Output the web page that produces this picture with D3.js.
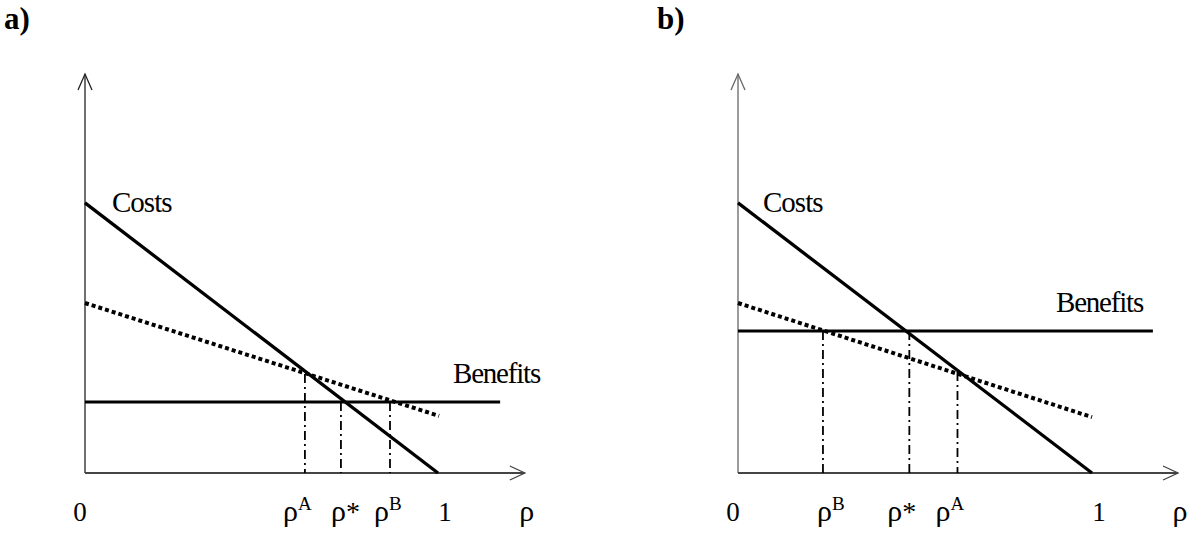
<!DOCTYPE html>
<html>
<head>
<meta charset="utf-8">
<script src="https://cdn.jsdelivr.net/npm/d3@7"></script>
<style>
  body { margin: 0; background: #fff; }
</style>
</head>
<body>
<svg id="chart" width="1197" height="537"></svg>
<script>
// data in chart units: rho on x (0..1), value on y (0..1 = axis height)
var panelNames = ['a)', 'b)'];

var costsA = [[0, 0.677], [1, 0]];
var dottedA = [[0, 0.426], [1.003, 0.143]];
var benefitsA = [[0, 0.178], [1.176, 0.178]];
var markersA = [
  {name: 'A', x: 0.623, top: 0.248},
  {name: '*', x: 0.725, top: 0.178},
  {name: 'B', x: 0.864, top: 0.178}
];

var costsB = [[0, 0.677], [1, 0]];
var dottedB = [[0, 0.426], [1, 0.140]];
var benefitsB = [[0, 0.356], [1.172, 0.356]];
var markersB = [
  {name: 'B', x: 0.24, top: 0.356},
  {name: '*', x: 0.484, top: 0.356},
  {name: 'A', x: 0.62, top: 0.253}
];

var tickLabels = ['0', '1'];
var axisLabel = 'ρ';
var costsLabel = 'Costs';
var benefitsLabel = 'Benefits';

var SERIF = "'Liberation Serif', 'DejaVu Serif', 'Times New Roman', serif";
var svg = d3.select('#chart');

function drawPanel(p) {
  var x = d3.scaleLinear().domain([0, 1]).range([p.x0, p.x1]);
  var y = d3.scaleLinear().domain([0, 1]).range([473, 74]);
  var g = svg.append('g').attr('font-family', SERIF);
  var line = d3.line().x(function(d) { return x(d[0]); }).y(function(d) { return y(d[1]); });

  // panel title
  g.append('text').attr('x', p.x0 - 81).attr('y', 29)
    .attr('font-size', 31).attr('font-weight', 'bold').text(p.title);

  // y axis with open arrow
  g.append('line').attr('x1', x(0)).attr('x2', x(0)).attr('y1', y(0)).attr('y2', y(1))
    .style('stroke', p.yAxisColor).style('stroke-width', 1.3);
  g.append('path')
    .attr('d', 'M' + (x(0) - 7) + ',' + (y(1) + 16) + 'L' + x(0) + ',' + y(1) + 'L' + (x(0) + 7) + ',' + (y(1) + 16))
    .style('fill', 'none').style('stroke', p.yAxisColor).style('stroke-width', 1.3);

  // x axis with open arrow
  var xEnd = x(p.axisEnd);
  g.append('line').attr('x1', x(0)).attr('x2', xEnd).attr('y1', y(0)).attr('y2', y(0))
    .style('stroke', '#444').style('stroke-width', 2);
  g.append('path')
    .attr('d', 'M' + (xEnd - 15) + ',' + (y(0) - 7) + 'L' + xEnd + ',' + y(0) + 'L' + (xEnd - 15) + ',' + (y(0) + 7))
    .style('fill', 'none').style('stroke', '#444').style('stroke-width', 1.3);

  // dash-dot guides
  g.selectAll('.guide').data(p.markers).enter().append('line')
    .attr('class', 'guide')
    .attr('x1', function(d) { return x(d.x); }).attr('x2', function(d) { return x(d.x); })
    .attr('y1', function(d) { return y(d.top); }).attr('y2', y(0))
    .style('stroke', '#000').style('stroke-width', 1.8)
    .style('stroke-dasharray', '9,4,2,4');

  // curves
  g.append('path').attr('d', line(p.benefits))
    .style('fill', 'none').style('stroke', '#000').style('stroke-width', 3);
  g.append('path').attr('d', line(p.dotted))
    .style('fill', 'none').style('stroke', '#000').style('stroke-width', 4)
    .style('stroke-dasharray', '4,3');
  g.append('path').attr('d', line(p.costs))
    .style('fill', 'none').style('stroke', '#000').style('stroke-width', 3.3);

  // curve labels
  g.append('text').attr('x', x(0) + p.costsDx).attr('y', 212)
    .attr('font-size', 29).attr('letter-spacing', -1).text(costsLabel);
  g.append('text').attr('x', p.benefitsX).attr('y', p.benefitsY)
    .attr('font-size', 29).attr('letter-spacing', -1.2).text(benefitsLabel);

  // tick labels
  g.append('text').attr('x', x(0) - 5).attr('y', 521).attr('text-anchor', 'middle')
    .attr('font-size', 27).text(tickLabels[0]);
  g.append('text').attr('x', x(1) + 7).attr('y', 521).attr('text-anchor', 'middle')
    .attr('font-size', 27).text(tickLabels[1]);
  g.append('text').attr('x', xEnd + 2).attr('y', 521).attr('text-anchor', 'middle')
    .attr('font-size', 30).text(axisLabel);

  // rho labels
  var lab = g.selectAll('.rho').data(p.markers).enter().append('text')
    .attr('class', 'rho')
    .attr('x', function(d, i) { return x(d.x) + p.nudge[i]; })
    .attr('y', 521)
    .attr('font-size', 30);
  lab.append('tspan').text(axisLabel);
  lab.append('tspan')
    .attr('dy', function(d) { return d.name === '*' ? 0 : -11; })
    .attr('font-size', function(d) { return d.name === '*' ? 28 : 19; })
    .text(function(d) { return d.name; });
}

drawPanel({
  title: panelNames[0], x0: 85, x1: 438, axisEnd: 1.246, yAxisColor: '#222',
  costs: costsA, dotted: dottedA, benefits: benefitsA, markers: markersA,
  costsDx: 27, benefitsX: 453, benefitsY: 383, nudge: [-22, -10, -16]
});
drawPanel({
  title: panelNames[1], x0: 738, x1: 1092, axisEnd: 1.243, yAxisColor: '#666',
  costs: costsB, dotted: dottedB, benefits: benefitsB, markers: markersB,
  costsDx: 25, benefitsX: 1056, benefitsY: 312, nudge: [-6, -22, -22]
});
</script>
</body>
</html>
